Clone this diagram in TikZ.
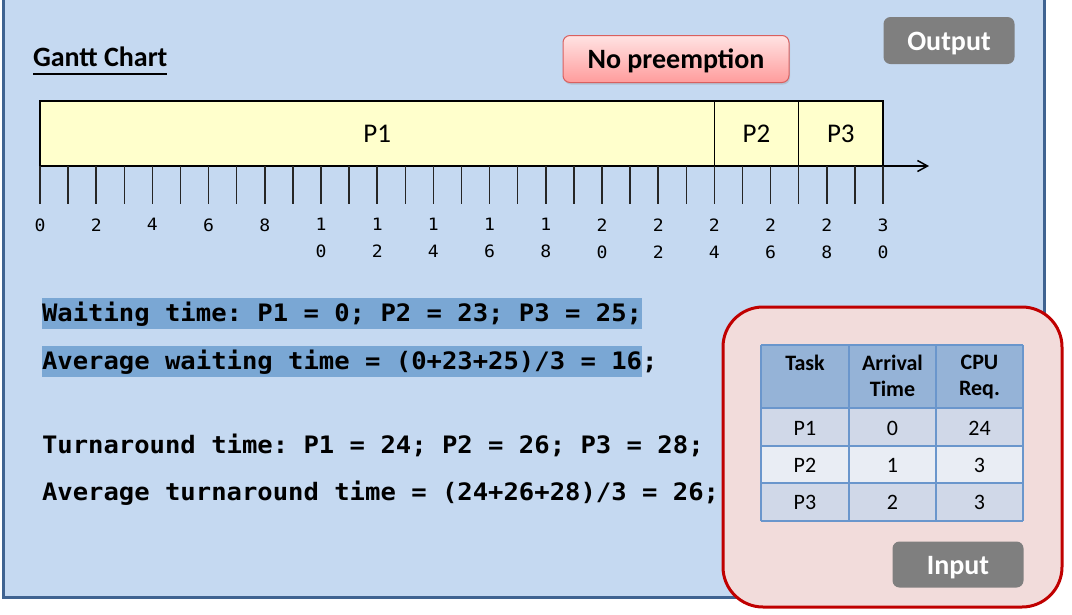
\documentclass[tikz,border=0pt]{standalone}
\usepackage{fontspec}
\setmainfont{Carlito}
\newfontfamily\monofont[FakeStretch=1.065]{DejaVu Sans Mono}
\usetikzlibrary{positioning,arrows.meta,shadows}

\definecolor{panelblue}{HTML}{C5D9F1}
\definecolor{paneledge}{HTML}{3F6391}
\definecolor{barfill}{HTML}{FFFFCC}
\definecolor{hiliteblue}{HTML}{7AA7D4}
\definecolor{inputpink}{HTML}{F2DCDB}
\definecolor{inputedge}{HTML}{C00000}
\definecolor{headblue}{HTML}{95B3D7}
\definecolor{oddblue}{HTML}{D0D8E8}
\definecolor{evenblue}{HTML}{E9EDF4}
\definecolor{tabline}{HTML}{6A96CC}
\definecolor{taggray}{HTML}{7F7F7F}
\definecolor{pinktop}{HTML}{FFE3E3}
\definecolor{pinkbottom}{HTML}{FF9C9C}
\definecolor{pinkedge}{HTML}{D9605F}

\tikzset{
  chart/.style={
    x=1pt, y=-1pt,
    every node/.style={inner sep=0pt, outer sep=0pt},
    panel/.style={draw=paneledge, line width=3pt, fill=panelblue},
    inputpanel/.style={draw=inputedge, line width=3pt, fill=inputpink, rounded corners=40pt},
    title/.style={anchor=base west, font=\bfseries\fontsize{28}{28}\selectfont},
    tag/.style={
        rounded corners=7pt,
        minimum height=47pt,
        text height=20pt,
        text depth=0pt,
        font=\bfseries\fontsize{28}{28}\selectfont,
    },
    graytag/.style={tag, fill=taggray, text=white, minimum width=131pt},
    slot/.style={
        draw=black,
        line width=1.5pt,
        fill=barfill,
        minimum height=65pt,
        anchor=south west,
        font=\fontsize{27}{27}\selectfont,
    },
    axis/.style={line width=1.5pt, -{Straight Barb[length=10pt,width=11pt]}},
    tick/.style={line width=1.5pt, black!85},
    ticklabel/.style={anchor=north, align=center, font=\monofont\fontsize{17}{27}\selectfont},
    codeline/.style={
        anchor=west,
        text height=23.4pt,
        text depth=7.6pt,
        font=\monofont\bfseries\frenchspacing\fontsize{24}{24}\selectfont,
    },
    tabtext/.style={anchor=base, font=\fontsize{22}{22}\selectfont},
    headcell/.style={anchor=north, align=center, font=\bfseries\fontsize{22}{26}\selectfont}
  }
}

\begin{document}
\begin{tikzpicture}[chart]
        \useasboundingbox (0,0) rectangle (1072,614);
        \draw[panel] (3,-10) rectangle (1044,597);

        \node[title] (gantt) at (33,66.7) {Gantt Chart};
        \draw[line width=1.5pt] ([yshift=-7pt]gantt.south west) -- ([yshift=-7pt]gantt.south east);
        \node[tag, draw=pinkedge, line width=1pt, top color=pinktop, bottom color=pinkbottom,
              minimum width=226pt, text height=19pt, drop shadow={shadow xshift=1pt, shadow yshift=-2pt, opacity=0.25}]
              (nopre) at (676,59) {No preemption};
        \node[graytag] (output) at (949,40.5) {Output};

        % gantt bar
        \node[slot, minimum width=674.4pt] (p1) at (40,166) {P1};
        \node[slot, minimum width=84.3pt, right=0pt of p1] (p2) {P2};
        \node[slot, minimum width=84.3pt, right=0pt of p2] (p3) {P3};
        \coordinate (axisend) at (929,166);
        \draw[axis] (p1.south west) -- (axisend);
        \foreach \i in {0,...,30}
            \draw[tick] (40+28.1*\i,166) -- ++(0,38);
        \foreach \t/\lab in {0/0,2/2,4/4,6/6,8/8,10/{1\\0},12/{1\\2},14/{1\\4},16/{1\\6},
                             18/{1\\8},20/{2\\0},22/{2\\2},24/{2\\4},26/{2\\6},28/{2\\8},30/{3\\0}}
            \node[ticklabel] (lab\t) at (40+28.1*\t,218.5) {\lab};

        % times
        \node[codeline, fill=hiliteblue] (wait) at (42,313.8) {Waiting time: P1 = 0; P2 = 23; P3 = 25;};
        \node[codeline, fill=hiliteblue] (avgwait) at (42,361.1) {Average waiting time = (0+23+25)/3 = 16};
        \node[codeline, right=0pt of avgwait] (avgsemi) {;};
        \node[codeline] (turn) at (42,445.4) {Turnaround time: P1 = 24; P2 = 26; P3 = 28;};
        \node[codeline] (avgturn) at (42,492.8) {Average turnaround time = (24+26+28)/3 = 26;};

        % input table
        \draw[inputpanel] (723,307) rectangle (1062,607);
        \fill[headblue] (761,345) rectangle (1023,408);
        \foreach \top/\bot/\col in {408/446/oddblue,446/483/evenblue,483/521/oddblue}
            \fill[\col] (761,\top) rectangle (1023,\bot);
        \foreach \x in {761,849,936,1023}
            \draw[tabline, line width=1.5pt] (\x,345) -- (\x,521);
        \foreach \y in {345,408,446,483,521}
            \draw[tabline, line width=1.5pt] (761,\y) -- (1023,\y);
        \node[headcell] (htask) at (805,355.5) {Task};
        \node[headcell] (harr) at (892.5,355.5) {Arrival\\Time};
        \node[headcell] (hcpu) at (979.5,355.5) {CPU\\Req.};
        \foreach \name/\arr/\cpu/\y in {P1/0/24/435,P2/1/3/472,P3/2/3/509}{
            \node[tabtext] (task\name) at (805,\y) {\name};
            \node[tabtext] (arr\name) at (892.5,\y) {\arr};
            \node[tabtext] (cpu\name) at (979.5,\y) {\cpu};
        }
        \node[graytag, minimum height=46pt] (input) at (958,564.5) {Input};
\end{tikzpicture}
\end{document}
